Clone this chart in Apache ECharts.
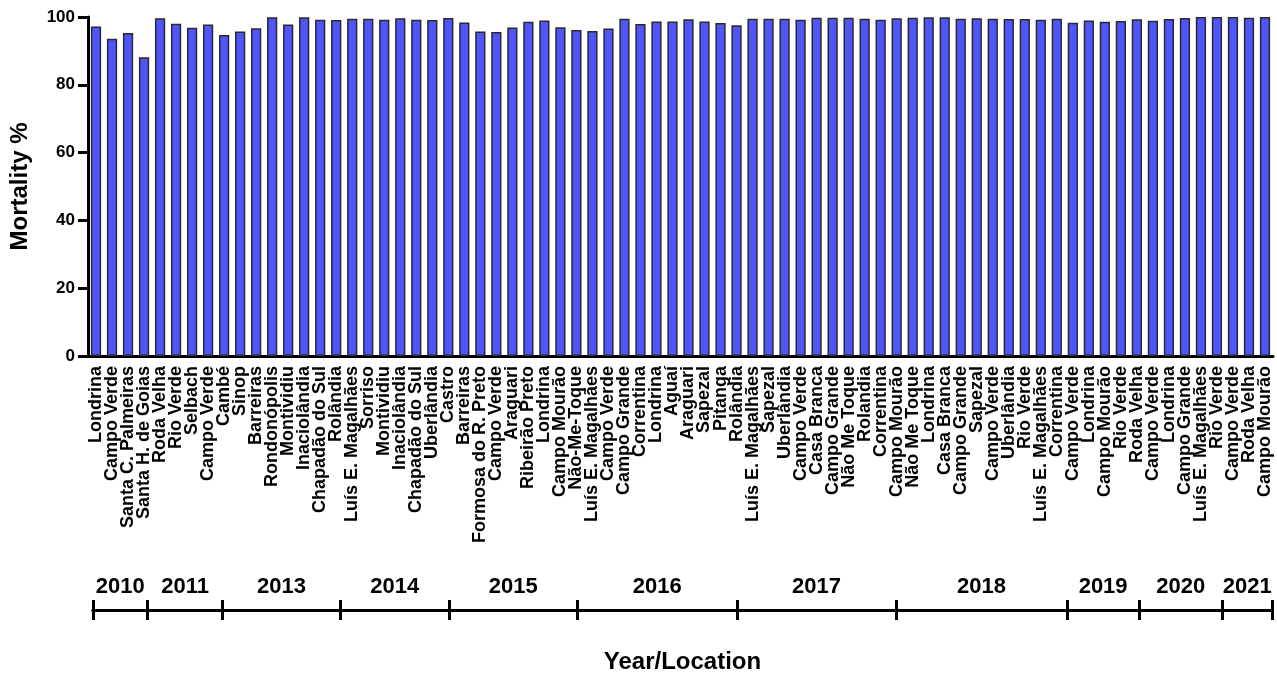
<!DOCTYPE html>
<html>
<head>
<meta charset="utf-8">
<script src="https://cdn.jsdelivr.net/npm/echarts@6/dist/echarts.min.js"></script>
<style>
  html, body { margin: 0; padding: 0; background: #fff; }
  #chart { width: 1277px; height: 675px; }
</style>
</head>
<body>
<div id="chart"></div>
<script>
// locations, one bar each, in the order they appear
const locations = [
  'Londrina', 'Campo Verde', 'Santa C. Palmeiras', 'Santa H. de Goias',
  'Roda Velha', 'Rio Verde', 'Selbach', 'Campo Verde',
  'Cambé', 'Sinop', 'Barreiras', 'Rondonópolis', 'Montividiu', 'Inaciolândia', 'Chapadão do Sul', 'Rolândia',
  'Luís E. Magalhães', 'Sorriso', 'Montividiu', 'Inaciolândia', 'Chapadão do Sul', 'Uberlândia', 'Castro',
  'Barreiras', 'Formosa do R. Preto', 'Campo Verde', 'Araguari', 'Ribeirão Preto', 'Londrina', 'Campo Mourão', 'Não-Me-Toque',
  'Luís E. Magalhães', 'Campo Verde', 'Campo Grande', 'Correntina', 'Londrina', 'Aguaí', 'Araguari', 'Sapezal', 'Pitanga', 'Rolândia',
  'Luís E. Magalhães', 'Sapezal', 'Uberlândia', 'Campo Verde', 'Casa Branca', 'Campo Grande', 'Não Me Toque', 'Rolandia', 'Correntina', 'Campo Mourão',
  'Não Me Toque', 'Londrina', 'Casa Branca', 'Campo Grande', 'Sapezal', 'Campo Verde', 'Uberlândia', 'Rio Verde', 'Luís E. Magalhães', 'Correntina', 'Campo Verde',
  'Londrina', 'Campo Mourão', 'Rio Verde', 'Roda Velha',
  'Campo Verde', 'Londrina', 'Campo Grande', 'Luís E. Magalhães', 'Rio Verde',
  'Campo Verde', 'Roda Velha', 'Campo Mourão'
]

const mortality = [
  97.2, 93.6, 95.3, 88.1,
  99.6, 98.0, 96.8, 97.8,
  94.7, 95.7, 96.7, 99.9, 97.8, 99.9, 99.2, 99.1,
  99.5, 99.5, 99.2, 99.6, 99.2, 99.1, 99.7,
  98.4, 95.7, 95.6, 96.9, 98.6, 99.0, 97.0, 96.2,
  95.9, 96.6, 99.5, 97.9, 98.7, 98.7, 99.3, 98.7, 98.2, 97.6,
  99.5, 99.5, 99.5, 99.2, 99.8, 99.8, 99.8, 99.5, 99.2, 99.6,
  99.8, 99.9, 99.9, 99.5, 99.6, 99.5, 99.4, 99.4, 99.2, 99.5, 98.3,
  99.0, 98.6, 98.8, 99.3,
  98.9, 99.4, 99.7, 100, 100,
  100, 99.8, 100
]

// year brackets under the labels, boundaries counted in bars
const yearLabels = ['2010', '2011', '2013', '2014', '2015', '2016', '2017', '2018', '2019', '2020', '2021']
const yearBounds = [0.25, 3.65, 8.35, 15.7, 22.5, 30.5, 40.5, 50.4, 61.1, 65.6, 70.8, 73.9]

const yearMids = []
for (let i = 0; i < yearLabels.length; i++) {
  yearMids.push((yearBounds[i] + yearBounds[i + 1]) / 2)
}

const font = 'Liberation Sans, Arial, Helvetica, sans-serif'
const chart = echarts.init(document.getElementById('chart'), null, { renderer: 'canvas' })

chart.setOption({
  animation: false,
  backgroundColor: '#fff',
  grid: [
    { left: 88, right: 4, top: 17, bottom: 319, containLabel: false },
    { left: 93, right: 5, top: 590, height: 21, containLabel: false }
  ],
  xAxis: [
    {
      type: 'category',
      gridIndex: 0,
      data: locations,
      axisLine: { lineStyle: { color: '#000', width: 3 } },
      axisTick: { alignWithLabel: true, length: 8, lineStyle: { color: '#000', width: 3 } },
      axisLabel: {
        interval: 0,
        rotate: 90,
        margin: 10,
        color: '#000',
        fontSize: 18,
        fontWeight: 'bold',
        fontFamily: font
      }
    },
    {
      // upper half of the year bracket, with the year names
      type: 'value',
      gridIndex: 1,
      position: 'bottom',
      min: yearBounds[0],
      max: yearBounds[yearBounds.length - 1],
      splitLine: { show: false },
      axisLine: { onZero: false, lineStyle: { color: '#000', width: 3 } },
      axisTick: { inside: true, length: 10, customValues: yearBounds, lineStyle: { color: '#000', width: 3 } },
      axisLabel: {
        inside: true,
        margin: 12,
        customValues: yearMids,
        color: '#000',
        fontSize: 22,
        fontWeight: 'bold',
        fontFamily: font,
        formatter: function (v) {
          const i = yearMids.findIndex(m => Math.abs(m - v) < 1e-6)
          return i >= 0 ? yearLabels[i] : ''
        }
      }
    },
    {
      // lower half of the year bracket
      type: 'value',
      gridIndex: 1,
      position: 'bottom',
      min: yearBounds[0],
      max: yearBounds[yearBounds.length - 1],
      splitLine: { show: false },
      axisLine: { onZero: false, lineStyle: { color: '#000', width: 3 } },
      axisTick: { length: 10, customValues: yearBounds, lineStyle: { color: '#000', width: 3 } },
      axisLabel: { show: false },
      name: 'Year/Location',
      nameLocation: 'middle',
      nameGap: 40,
      nameTextStyle: { color: '#000', fontSize: 24, fontWeight: 'bold', fontFamily: font }
    }
  ],
  yAxis: [
    {
      type: 'value',
      gridIndex: 0,
      min: 0,
      max: 100,
      interval: 20,
      name: 'Mortality %',
      nameLocation: 'middle',
      nameGap: 56,
      nameTextStyle: { color: '#000', fontSize: 24, fontWeight: 'bold', fontFamily: font },
      splitLine: { show: false },
      axisLine: { show: true, lineStyle: { color: '#000', width: 3 } },
      axisTick: { show: true, length: 10, lineStyle: { color: '#000', width: 3 } },
      axisLabel: { margin: 13, color: '#000', fontSize: 17, fontWeight: 'bold', fontFamily: font }
    },
    {
      type: 'value',
      gridIndex: 1,
      min: 0,
      max: 1,
      show: false
    }
  ],
  series: [
    {
      name: 'Mortality',
      type: 'bar',
      xAxisIndex: 0,
      yAxisIndex: 0,
      barWidth: '64%',
      itemStyle: { color: '#5254fa', borderColor: '#2a2a2a', borderWidth: 1.5 },
      data: mortality
    },
    {
      type: 'scatter',
      xAxisIndex: 1,
      yAxisIndex: 1,
      data: []
    }
  ]
})
</script>
</body>
</html>
